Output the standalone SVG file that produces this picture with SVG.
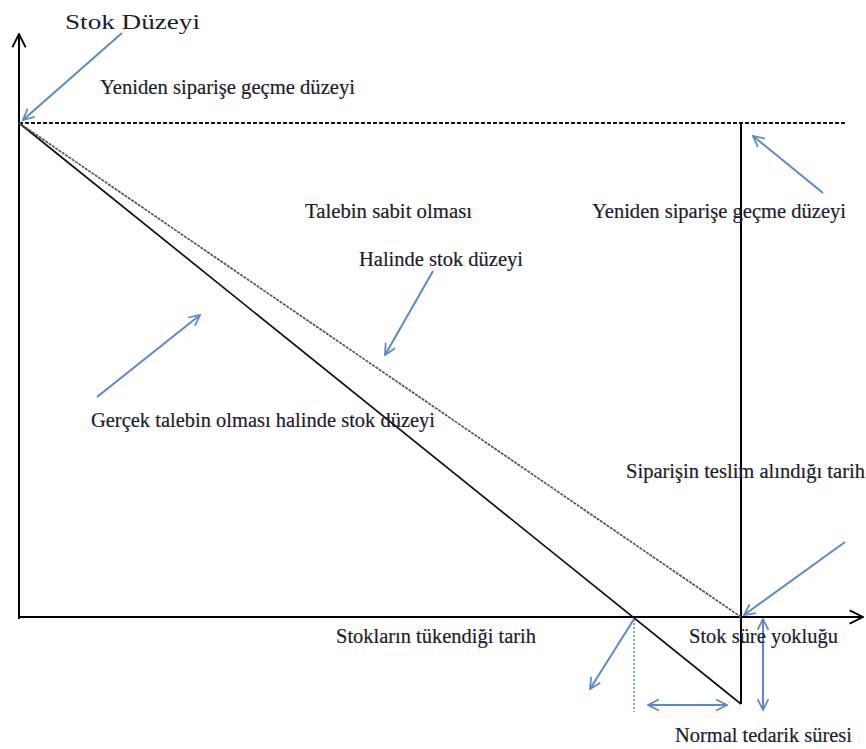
<svg xmlns="http://www.w3.org/2000/svg" width="866" height="749" viewBox="0 0 866 749">
<defs>
<marker id="ba" viewBox="0 0 12 12" refX="11" refY="6" markerWidth="13" markerHeight="13" markerUnits="userSpaceOnUse" orient="auto-start-reverse">
<path d="M1,1 L11,6 L1,11" fill="none" stroke="#5b89c9" stroke-width="1.6"/>
</marker>
<marker id="ka" viewBox="0 0 12 12" refX="11" refY="6" markerWidth="16" markerHeight="16" markerUnits="userSpaceOnUse" orient="auto">
<path d="M1,1 L11,6 L1,11" fill="none" stroke="#000" stroke-width="1.4"/>
</marker>
</defs>
<style>
text{font-family:"Liberation Serif","Times New Roman",serif;fill:#1c1c30;font-size:20px;stroke:#1c1c30;stroke-width:0.2}
text.title{stroke:none}
.blue{stroke:#5b89c9;stroke-width:2;fill:none}
.ax{stroke:#000;stroke-width:2;fill:none}
</style>
<rect width="866" height="749" fill="#fff"/>
<g id="axes">
<line class="ax" x1="19" y1="619" x2="19" y2="34" marker-end="url(#ka)"/>
<line class="ax" x1="19" y1="617" x2="863" y2="617" marker-end="url(#ka)"/>
</g>
<g id="reorder-line">
<line x1="19" y1="123" x2="846" y2="123" stroke="#111" stroke-width="2" stroke-dasharray="4,2"/>
<line x1="741" y1="123" x2="741" y2="704" stroke="#000" stroke-width="2"/>
</g>
<g id="demand-lines">
<line x1="19" y1="123" x2="741" y2="704" stroke="#111" stroke-width="1.7"/>
<line x1="19" y1="123" x2="741" y2="617" stroke="#555" stroke-width="1.7" stroke-dasharray="3,1"/>
<line x1="634" y1="619" x2="634" y2="712" stroke="#5b89c9" stroke-width="1.5" stroke-dasharray="2,2"/>
</g>
<g id="connectors">
<line class="blue" x1="122" y1="33" x2="23" y2="120" marker-end="url(#ba)"/>
<line class="blue" x1="97" y1="397" x2="200" y2="315" marker-end="url(#ba)"/>
<line class="blue" x1="433" y1="271" x2="385" y2="355" marker-end="url(#ba)"/>
<line class="blue" x1="823" y1="193" x2="753" y2="136" marker-end="url(#ba)"/>
<line class="blue" x1="845" y1="542" x2="744" y2="615" marker-end="url(#ba)"/>
<line class="blue" x1="634" y1="619" x2="590" y2="689" marker-end="url(#ba)"/>
<line class="blue" x1="648" y1="705" x2="727" y2="705" marker-start="url(#ba)" marker-end="url(#ba)"/>
<line class="blue" x1="763" y1="619" x2="763" y2="710" marker-start="url(#ba)" marker-end="url(#ba)"/>
</g>
<g id="labels">
<text class="title" x="65" y="29" font-size="28" textLength="135" lengthAdjust="spacingAndGlyphs">Stok Düzeyi</text>
<text x="100" y="94" textLength="255" lengthAdjust="spacingAndGlyphs">Yeniden siparişe geçme düzeyi</text>
<text x="305" y="218" textLength="167" lengthAdjust="spacingAndGlyphs">Talebin sabit olması</text>
<text x="592" y="218" textLength="254" lengthAdjust="spacingAndGlyphs">Yeniden siparişe geçme düzeyi</text>
<text x="359" y="266" textLength="164" lengthAdjust="spacingAndGlyphs">Halinde stok düzeyi</text>
<text x="91" y="427" textLength="344" lengthAdjust="spacingAndGlyphs">Gerçek talebin olması halinde stok düzeyi</text>
<text x="626" y="478" textLength="239" lengthAdjust="spacingAndGlyphs">Siparişin teslim alındığı tarih</text>
<text x="336" y="643" textLength="200" lengthAdjust="spacingAndGlyphs">Stokların tükendiği tarih</text>
<text x="689" y="643" textLength="149" lengthAdjust="spacingAndGlyphs">Stok süre yokluğu</text>
<text x="675" y="742" textLength="177" lengthAdjust="spacingAndGlyphs">Normal tedarik süresi</text>
</g>
</svg>
